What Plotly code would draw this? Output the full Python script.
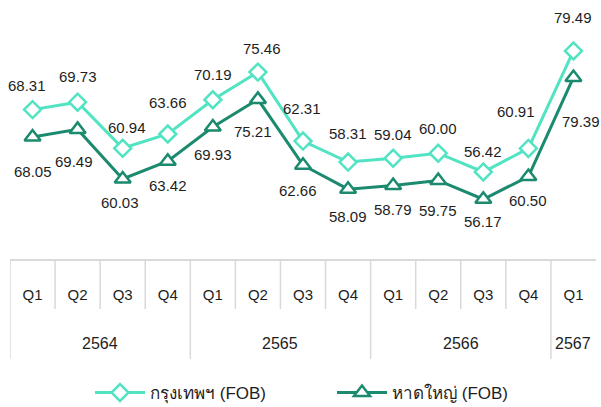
import plotly.graph_objects as go

years = ["2564", "2564", "2564", "2564", "2565", "2565", "2565", "2565",
         "2566", "2566", "2566", "2566", "2567"]
quarters = ["Q1", "Q2", "Q3", "Q4", "Q1", "Q2", "Q3", "Q4",
            "Q1", "Q2", "Q3", "Q4", "Q1"]
bangkok = [68.31, 69.73, 60.94, 63.66, 70.19, 75.46, 62.31, 58.31,
           59.04, 60.00, 56.42, 60.91, 79.49]
laem = [68.05, 69.49, 60.03, 63.42, 69.93, 75.21, 62.66, 58.09,
        58.79, 59.75, 56.17, 60.50, 79.39]
name_bkk = "กรุงเทพฯ (FOB)"
name_laem = "หาดใหญ่ (FOB)"

# label offsets (style, pixels)
bkk_dy = [24, 26, 21, 32, 25, 24, 33, 29, 24, 25, 20, 37, 33]
bkk_dx = [-6, 0, 4, 0, 0, 4, -1, 0, 0, 0, 0, -12, 0]
laem_dy = [35, 32, 23, 24, 27, 32, 25, 27, 24, 30, 22, 24, 44]
laem_dx = [0, -4, -3, 0, 0, -5, -5, 0, 0, 0, 0, 0, 8]

C_LIGHT = "#52E3C2"
C_DARK = "#1B8A6E"
GRID = "#D9D9D9"
FONT = "Liberation Sans, Arial, Noto Sans, DejaVu Sans, sans-serif"
TXT = "#1e1e1e"

W, H = 601, 407
ML, MR, MT, MB = 10, 5, 10, 148
PH = H - MT - MB
PW = W - ML - MR
n = len(quarters)
xs = list(range(n))


def py(px):
    """convert pixel y (from top of page) to paper coordinate"""
    return (H - MB - px) / PH


def px_(p):
    """convert pixel x to paper coordinate"""
    return (p - ML) / PW


fig = go.Figure()
fig.add_trace(go.Scatter(
    x=xs, y=bangkok, name=name_bkk, mode="lines+markers",
    line=dict(color=C_LIGHT, width=3),
    marker=dict(symbol="diamond", size=13, color="white",
                line=dict(color=C_LIGHT, width=2.5)),
    yaxis="y"))
fig.add_trace(go.Scatter(
    x=xs, y=laem, name=name_laem, mode="lines+markers",
    line=dict(color=C_DARK, width=3),
    marker=dict(symbol="triangle-up", size=14, color="white",
                line=dict(color=C_DARK, width=2.5)),
    yaxis="y2"))

annotations = []
for i in range(n):
    annotations.append(dict(x=xs[i], y=bangkok[i], xref="x", yref="y",
                            text=f"{bangkok[i]:.2f}", showarrow=False,
                            xshift=bkk_dx[i], yshift=bkk_dy[i],
                            font=dict(size=15, color=TXT, family=FONT)))
    annotations.append(dict(x=xs[i], y=laem[i], xref="x", yref="y2",
                            text=f"{laem[i]:.2f}", showarrow=False,
                            xshift=laem_dx[i], yshift=-laem_dy[i],
                            font=dict(size=15, color=TXT, family=FONT)))

# year group labels and separators
groups = []
for i, yv in enumerate(years):
    if not groups or groups[-1][0] != yv:
        groups.append([yv, i, i])
    else:
        groups[-1][2] = i
shapes = []
group_starts = {g[1] for g in groups}
for g in groups:
    annotations.append(dict(x=(g[1] + g[2]) / 2, y=py(343), xref="x", yref="paper",
                            text=g[0], showarrow=False, yanchor="middle",
                            font=dict(size=16, color=TXT, family=FONT)))
for k in range(n):
    bottom = py(359) if k in group_starts else py(309)
    shapes.append(dict(type="line", xref="x", yref="paper",
                       x0=k - 0.5, x1=k - 0.5, y0=py(259), y1=bottom,
                       line=dict(color=GRID, width=1.5)))

fig.update_layout(
    width=W, height=H,
    margin=dict(l=ML, r=MR, t=MT, b=MB, autoexpand=False),
    paper_bgcolor="white", plot_bgcolor="white",
    font=dict(family=FONT, size=15, color=TXT),
    showlegend=True,
    legend=dict(orientation="h", x=px_(90), xanchor="left", y=py(393), yanchor="middle",
                font=dict(size=17, color=TXT), itemwidth=50, tracegroupgap=0,
                entrywidth=177, entrywidthmode="pixels",
                bgcolor="rgba(0,0,0,0)"),
    xaxis=dict(range=[-0.5, n - 0.5], tickmode="array", tickvals=xs, ticktext=quarters,
               showgrid=False, zeroline=False, showline=True, linecolor=GRID, linewidth=1.5,
               ticks="", ticklabelstandoff=21, tickfont=dict(size=15, color=TXT, family=FONT),
               automargin=False, fixedrange=True),
    yaxis=dict(range=[39.83, 87.30], visible=False, fixedrange=True),
    yaxis2=dict(range=[44.78, 92.25], overlaying="y", visible=False, fixedrange=True),
    annotations=annotations,
    shapes=shapes,
)

fig.write_html("out.html", config={"displayModeBar": False},
               post_script="document.body.style.margin='0';document.body.style.overflow='hidden';")
